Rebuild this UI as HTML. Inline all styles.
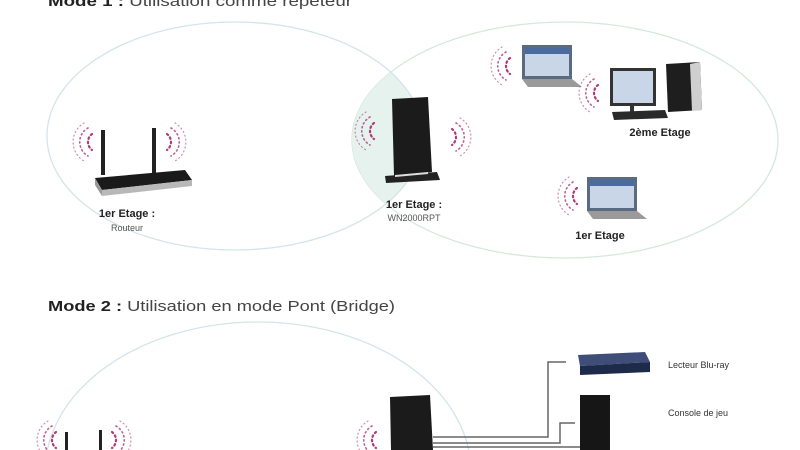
<!DOCTYPE html>
<html><head><meta charset="utf-8"><style>
html,body{margin:0;padding:0;background:#fff;width:800px;height:450px;overflow:hidden;}
svg{display:block;font-family:"Liberation Sans",sans-serif;}
</style></head><body>
<svg width="800" height="450" viewBox="0 0 800 450" xmlns="http://www.w3.org/2000/svg">
<defs>
 <clipPath id="c1"><ellipse cx="235" cy="136" rx="188" ry="114"/></clipPath>
 <g id="wl" fill="none" stroke="#b23a78" stroke-linecap="round">
  <path d="M0,-8 A10,10 0 0 0 0,8" stroke-width="2.2" stroke-dasharray="1.5 3"/>
  <path d="M-4,-14 A16,16 0 0 0 -4,14" stroke-width="1.6" stroke-dasharray="1.2 3" opacity="0.8"/>
  <path d="M-8,-19 A22,22 0 0 0 -8,19" stroke-width="1.2" stroke-dasharray="1 3" opacity="0.6"/>
 </g>
 <g id="wr"><use href="#wl" transform="scale(-1,1)"/></g>
 <g id="lap">
  <rect x="0" y="0" width="50" height="34" fill="#5a6a80"/>
  <rect x="3" y="3" width="44" height="28" fill="#c9d6e8"/>
  <rect x="3" y="3" width="44" height="6" fill="#4a6aa0"/>
  <path d="M0,34 L50,34 L60,42 L6,42 Z" fill="#9a9a9a"/>
 </g>
</defs>
<text x="48" y="6" font-size="15" textLength="304" lengthAdjust="spacingAndGlyphs"><tspan font-weight="bold" fill="#222">Mode 1 :</tspan><tspan fill="#444"> Utilisation comme répéteur</tspan></text>
<ellipse cx="565" cy="140" rx="213" ry="118" fill="none" stroke="#d6e8dc" stroke-width="1.3"/>
<ellipse cx="565" cy="140" rx="213" ry="118" fill="#e6f2ee" clip-path="url(#c1)"/>
<ellipse cx="235" cy="136" rx="188" ry="114" fill="none" stroke="#d4e4ec" stroke-width="1.3"/>
<!-- router -->
<rect x="101" y="130" width="4" height="45" fill="#222"/>
<rect x="152" y="128" width="4" height="47" fill="#222"/>
<path d="M95,178 L185,170 L192,180 L102,190 Z" fill="#1a1a1a"/>
<path d="M95,178 L102,190 L102,196 L95,185 Z" fill="#999"/>
<path d="M102,190 L192,180 L192,186 L102,196 Z" fill="#b8b8b8"/>
<use href="#wl" x="92" y="142"/><use href="#wr" x="167" y="142"/>
<text x="127" y="217" font-size="11" font-weight="bold" text-anchor="middle" fill="#222">1er Etage :</text>
<text x="127" y="231" font-size="9" text-anchor="middle" fill="#555">Routeur</text>
<!-- repeater -->
<path d="M392,99 L428,97 L432,172 L394,176 Z" fill="#1b1b1b"/>
<path d="M385,176 L437,172 L440,180 L386,183 Z" fill="#222"/>
<path d="M395,176 L428,173" stroke="#ddd" stroke-width="2"/>
<use href="#wl" x="374" y="131"/><use href="#wr" x="452" y="137"/>
<text x="414" y="208" font-size="11" font-weight="bold" text-anchor="middle" fill="#222">1er Etage :</text>
<text x="414" y="221" font-size="9" text-anchor="middle" fill="#555">WN2000RPT</text>
<!-- laptops -->
<use href="#lap" x="522" y="45"/>
<use href="#wl" x="510" y="66"/>
<use href="#lap" x="587" y="177"/>
<use href="#wl" x="577" y="196"/>
<text x="600" y="239" font-size="11" font-weight="bold" text-anchor="middle" fill="#222">1er Etage</text>
<!-- desktop -->
<rect x="610" y="68" width="46" height="38" fill="#333"/>
<rect x="613" y="71" width="40" height="32" fill="#c9d6e8"/>
<rect x="630" y="106" width="4" height="6" fill="#333"/>
<path d="M612,112 L665,110 L668,118 L614,120 Z" fill="#2a2a2a"/>
<path d="M666,64 L700,62 L702,110 L668,112 Z" fill="#1e1e1e"/>
<path d="M690,64 L700,62 L702,110 L692,111 Z" fill="#cfcfcf"/>
<use href="#wl" x="598" y="93"/>
<text x="660" y="136" font-size="11" font-weight="bold" text-anchor="middle" fill="#222">2ème Etage</text>
<!-- mode 2 -->
<text x="48" y="311" font-size="15" textLength="347" lengthAdjust="spacingAndGlyphs"><tspan font-weight="bold" fill="#222">Mode 2 :</tspan><tspan fill="#444"> Utilisation en mode Pont (Bridge)</tspan></text>
<ellipse cx="258" cy="472" rx="213" ry="150" fill="none" stroke="#d4e4ec" stroke-width="1.3"/>
<use href="#wl" x="56" y="440"/><use href="#wr" x="112" y="440"/>
<rect x="65" y="432" width="3" height="20" fill="#222"/><rect x="99" y="430" width="3" height="22" fill="#222"/>
<use href="#wl" x="376" y="440"/>
<path d="M390,397 L430,395 L433,450 L391,450 Z" fill="#1b1b1b"/>
<g fill="none" stroke="#666" stroke-width="1.5">
 <path d="M433,437 L548,437 L548,362 L566,362"/>
 <path d="M433,443 L560,443 L560,423 L575,423"/>
 <path d="M433,447 L580,447"/>
</g>
<path d="M578,355 L645,352 L650,362 L580,366 Z" fill="#3e4e78"/>
<path d="M580,366 L650,362 L650,372 L580,375 Z" fill="#1d2a4a"/>
<rect x="580" y="395" width="30" height="55" fill="#161616"/>
<text x="668" y="368" font-size="9" fill="#333">Lecteur Blu-ray</text>
<text x="668" y="416" font-size="9" fill="#333">Console de jeu</text>
</svg>
</body></html>
